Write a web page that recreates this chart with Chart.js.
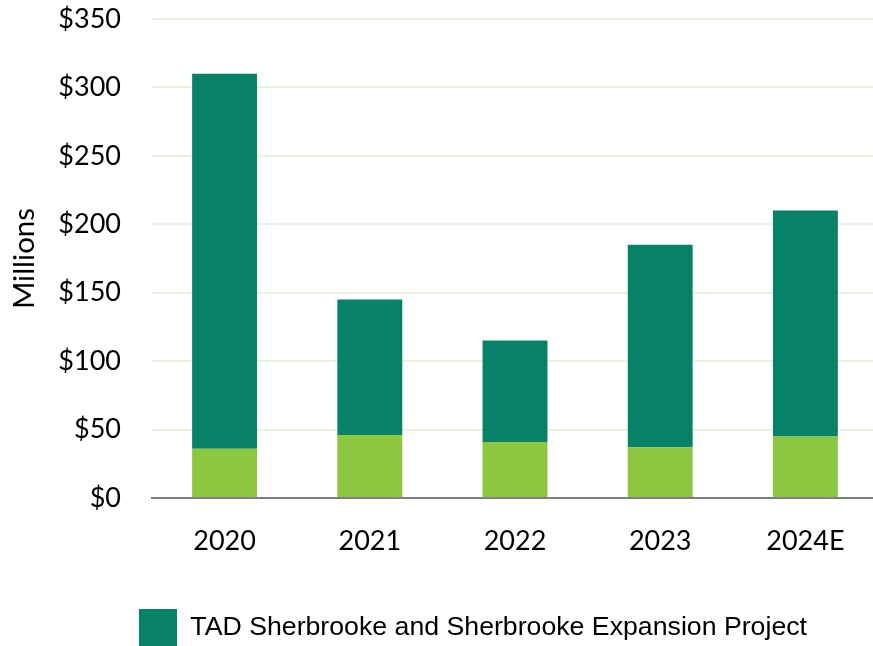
<!DOCTYPE html>
<html>
<head>
<meta charset="utf-8">
<script src="https://cdn.jsdelivr.net/npm/chart.js@4/dist/chart.umd.min.js"></script>
<style>
  html, body { margin: 0; padding: 0; background: #ffffff; overflow: hidden; }
  #wrap { position: relative; width: 879px; height: 657px; }
</style>
</head>
<body>
<div id="wrap"><canvas id="c"></canvas></div>
<script>
const categories = ['2020', '2021', '2022', '2023', '2024E'];
const baseValues = [36, 46, 41, 37, 45];
const tadSherbrookeValues = [274, 99, 74, 148, 165];
const tadSherbrookeLabel = 'TAD Sherbrooke and Sherbrooke Expansion Project';
const yTickValues = [0, 50, 100, 150, 200, 250, 300, 350];
const yAxisTitle = 'Millions';

const legendShift = {
  id: 'legendShift',
  afterLayout(chart) {
    const l = chart.legend;
    if (!l) return;
    const w = l.right - l.left;
    l.left = 129;
    l.right = 129 + w;
  }
};

new Chart(document.getElementById('c'), {
  type: 'bar',
  data: {
    labels: categories,
    datasets: [
      {
        label: '',
        data: baseValues,
        backgroundColor: '#8cc73f',
        borderWidth: 0,
        barPercentage: 0.447,
        categoryPercentage: 1.0
      },
      {
        label: tadSherbrookeLabel,
        data: tadSherbrookeValues,
        backgroundColor: '#078268',
        borderWidth: 0,
        barPercentage: 0.447,
        categoryPercentage: 1.0
      }
    ]
  },
  options: {
    responsive: true,
    maintainAspectRatio: false,
    animation: false,
    layout: { padding: { top: 19, right: 1, left: 0, bottom: 0 } },
    plugins: {
      tooltip: { enabled: false },
      legend: {
        position: 'bottom',
        align: 'start',
        labels: {
          filter: (item) => item.datasetIndex === 1,
          boxWidth: 38,
          boxHeight: 38,
          padding: 10,
          color: '#000000',
          font: { family: '"Liberation Sans", Arial, sans-serif', size: 26.7 }
        }
      }
    },
    scales: {
      x: {
        stacked: true,
        grid: { display: false, drawTicks: false },
        border: { display: true, color: '#7c7f88', width: 2 },
        ticks: {
          color: '#000000',
          padding: 27,
          font: { family: 'Lato, sans-serif', size: 27 }
        },
        afterFit(scale) { scale.height = 101; scale.paddingLeft = 0; scale.paddingRight = 0; }
      },
      y: {
        stacked: true,
        min: 0,
        max: 350,
        afterBuildTicks(scale) { scale.ticks = yTickValues.map(v => ({ value: v })); },
        grid: { color: '#ebf1de', lineWidth: 2, drawTicks: false },
        border: { display: false },
        ticks: {
          color: '#000000',
          padding: 31,
          font: { family: 'Lato, sans-serif', size: 27 },
          callback: (v) => '$' + v
        },
        title: {
          display: true,
          text: yAxisTitle,
          color: '#000000',
          padding: { top: 7, bottom: 0 },
          font: { family: 'Lato, sans-serif', size: 29.5 }
        },
        afterFit(scale) { scale.width = 152; scale.paddingTop = 0; scale.paddingBottom = 0; }
      }
    }
  },
  plugins: [legendShift]
});
</script>
</body>
</html>
